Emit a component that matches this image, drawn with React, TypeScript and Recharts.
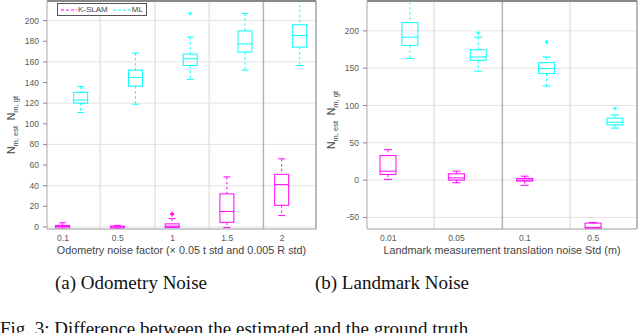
import React from 'react';
import { ComposedChart, Bar, XAxis, YAxis, CartesianGrid, ReferenceLine } from 'recharts';

// ---------- data ----------
// each stats row: [whiskerMin, q1, median, q3, whiskerMax]
const odoCategories = ['0.1', '0.5', '1', '1.5', '2'];
const odoKslamStats = [
  [-2.5, -1, 0.5, 1.5, 4],
  [-2, -1, 0, 0.8, 1.5],
  [-0.5, -0.5, 0.8, 3, 8],
  [-0.6, 4.5, 15, 32, 48.5],
  [11, 21, 41, 51, 66],
];
const odoKslamOutliers = [[], [], [12, 13], [], []];
const odoMlStats = [
  [111, 120, 123, 130.5, 136],
  [119, 136.5, 145, 152, 168.5],
  [143, 156.5, 163, 167.5, 184],
  [152, 169.5, 177.5, 190, 207],
  [156.5, 174.3, 185.5, 196, 225],
];
const odoMlOutliers = [[], [], [207], [], []];
const odoYTicks = [0, 20, 40, 60, 80, 100, 120, 140, 160, 180, 200];
const odoGridX = [1.68, 2.68, 3.67];
const odoSplitX = 4.66;

const lmCategories = ['0.01', '0.05', '0.1', '0.5'];
const lmKslamStats = [
  [1, 7.6, 12, 32.8, 40.8],
  [-3.5, 0, 3, 8.5, 12],
  [-7, -1.3, 0, 2.3, 5.3],
  [-70, -64.6, -63.3, -57.6, -56.7],
];
const lmKslamOutliers = [[], [], [], []];
const lmMlStats = [
  [163, 180.5, 191.5, 211, 245],
  [146, 160.5, 165, 174.7, 191.5],
  [126, 142.8, 149.4, 157.4, 165],
  [69.7, 74, 77.7, 83, 87.4],
];
const lmMlOutliers = [[], [197], [185], [96]];
const lmYTicks = [-50, 0, 50, 100, 150, 200];
const lmGridX = [1.67, 3.66];
const lmSplitX = 2.67;

const seriesNames = ['K-SLAM', 'ML'];

// ---------- styles ----------
const KSLAM_COLOR = '#FF00FF';
const ML_COLOR = '#00FFFF';
const TICK_FONT = 'Liberation Sans, Arial, sans-serif';
const TICK_COLOR = '#5a5a5a';

type Stats = { min: number; q1: number; med: number; q3: number; max: number; out: number[] };

const toStats = (s: number[], out: number[]): Stats => ({
  min: s[0], q1: s[1], med: s[2], q3: s[3], max: s[4], out,
});

const buildRows = (
  kStats: number[][], kOut: number[][], mStats: number[][], mOut: number[][], mlOffset: number,
) =>
  kStats.map((s, i) => ({
    xk: i + 1,
    xm: i + 1 + mlOffset,
    k: toStats(s, kOut[i]),
    m: toStats(mStats[i], mOut[i]),
  }));

const odoRows = buildRows(odoKslamStats, odoKslamOutliers, odoMlStats, odoMlOutliers, 0.33);
const lmRows = buildRows(lmKslamStats, lmKslamOutliers, lmMlStats, lmMlOutliers, 0.32);

const makeBoxShape = (key: 'k' | 'm', color: string) => (props: any) => {
  const { x, y, width, height, payload } = props;
  const b: Stats = payload[key];
  if (x == null || y == null || !b) return <g />;
  const span = b.max - b.min;
  const py = (v: number) => y + (height * (b.max - v)) / span;
  const cx = x + width / 2;
  const capW = width / 2;
  return (
    <g>
      <line x1={cx} x2={cx} y1={py(b.max)} y2={py(b.q3)} stroke={color} strokeWidth={1} strokeDasharray="2.5 2.5" />
      <line x1={cx} x2={cx} y1={py(b.q1)} y2={py(b.min)} stroke={color} strokeWidth={1} strokeDasharray="2.5 2.5" />
      <line x1={cx - capW / 2} x2={cx + capW / 2} y1={py(b.max)} y2={py(b.max)} stroke={color} strokeWidth={1} />
      <line x1={cx - capW / 2} x2={cx + capW / 2} y1={py(b.min)} y2={py(b.min)} stroke={color} strokeWidth={1} />
      <rect x={x} y={py(b.q3)} width={width} height={Math.max(py(b.q1) - py(b.q3), 1)} fill="none" stroke={color} strokeWidth={1} />
      <line x1={x} x2={x + width} y1={py(b.med)} y2={py(b.med)} stroke={color} strokeWidth={1} />
      {b.out.map((o, i) => (
        <g key={i}>
          <line x1={cx - 2} x2={cx + 2} y1={py(o)} y2={py(o)} stroke={color} strokeWidth={1} />
          <line x1={cx} x2={cx} y1={py(o) - 2} y2={py(o) + 2} stroke={color} strokeWidth={1} />
        </g>
      ))}
    </g>
  );
};

const YLabel = (props: any) => {
  const vb = props.viewBox || { x: 0, y: 0, width: 47, height: 228 };
  const cx = vb.x + 15;
  const cy = vb.y + vb.height / 2 + (props.shift || 0);
  return (
    <text
      x={cx}
      y={cy}
      transform={`rotate(-90 ${cx} ${cy})`}
      textAnchor="middle"
      fontFamily={TICK_FONT}
      fontSize={10.5}
      fill="#444"
    >
      N
      <tspan dy={3} fontSize={7.5}>m, est</tspan>
      <tspan dy={-3}>{'\u00a0\u00a0N'}</tspan>
      <tspan dy={3} fontSize={7.5}>m, gt</tspan>
    </text>
  );
};

const LegendBox = () => (
  <div
    style={{
      position: 'absolute',
      left: 57,
      top: 3,
      display: 'flex',
      alignItems: 'center',
      border: '1px solid #555',
      background: '#fff',
      height: 11,
      padding: '0 3px 0 2px',
      fontFamily: TICK_FONT,
      fontSize: 8,
      color: '#444',
      lineHeight: '11px',
    }}
  >
    <svg width={18} height={6}>
      <line x1={1} x2={17} y1={3} y2={3} stroke={KSLAM_COLOR} strokeWidth={1} strokeDasharray="3 2" />
    </svg>
    <span style={{ marginRight: 4 }}>{seriesNames[0]}</span>
    <svg width={20} height={6}>
      <line x1={1} x2={19} y1={3} y2={3} stroke={ML_COLOR} strokeWidth={1} strokeDasharray="3 2" />
    </svg>
    <span>{seriesNames[1]}</span>
  </div>
);

type PanelProps = {
  rows: any[];
  categories: string[];
  xDomain: [number, number];
  yDomain: [number, number];
  yTicks: number[];
  gridX: number[];
  splitX: number;
  xLabel: string;
  boxWidth: number;
  marginRight: number;
  labelShift: number;
};

const Panel = (p: PanelProps) => (
  <ComposedChart width={320} height={260} data={p.rows} margin={{ top: 1, right: p.marginRight, bottom: 0, left: 0 }}>
    <CartesianGrid horizontal vertical={false} stroke="#e4e4e4" strokeWidth={1} />
    <XAxis
      xAxisId="k"
      dataKey="xk"
      type="number"
      domain={p.xDomain}
      allowDataOverflow
      ticks={p.categories.map((_, i) => i + 1)}
      tickFormatter={(v: number) => p.categories[Math.round(v) - 1]}
      tick={{ fontSize: 8.5, fill: TICK_COLOR, fontFamily: TICK_FONT }}
      tickLine={false}
      tickSize={2}
      tickMargin={4}
      axisLine={{ stroke: '#aaa' }}
      height={31}
      label={{ value: p.xLabel, position: 'insideBottom', offset: 6, fontSize: 10.8, fill: '#444', fontFamily: TICK_FONT }}
    />
    <XAxis xAxisId="m" dataKey="xm" type="number" domain={p.xDomain} allowDataOverflow hide />
    <YAxis
      type="number"
      domain={p.yDomain}
      allowDataOverflow
      ticks={p.yTicks}
      width={47}
      tick={{ fontSize: 8.5, fill: TICK_COLOR, fontFamily: TICK_FONT }}
      tickLine={{ stroke: '#888' }}
      tickSize={4}
      tickMargin={4}
      axisLine={{ stroke: '#aaa' }}
      label={<YLabel shift={p.labelShift} />}
    />
    {p.gridX.map((gx) => (
      <ReferenceLine key={gx} xAxisId="k" x={gx} stroke="#e4e4e4" strokeWidth={1.5} />
    ))}
    <ReferenceLine xAxisId="k" x={p.splitX} stroke="#b4b4b4" strokeWidth={1.5} />
    <ReferenceLine xAxisId="k" x={p.xDomain[1]} stroke="#777" strokeWidth={1} ifOverflow="extendDomain" />
    <ReferenceLine xAxisId="k" y={p.yDomain[1]} stroke="#666" strokeWidth={1.5} ifOverflow="extendDomain" />
    <Bar
      xAxisId="k"
      dataKey={(d: any) => [d.k.min, d.k.max]}
      name={seriesNames[0]}
      barSize={p.boxWidth}
      isAnimationActive={false}
      shape={makeBoxShape('k', KSLAM_COLOR)}
    />
    <Bar
      xAxisId="m"
      dataKey={(d: any) => [d.m.min, d.m.max]}
      name={seriesNames[1]}
      barSize={p.boxWidth}
      isAnimationActive={false}
      shape={makeBoxShape('m', ML_COLOR)}
    />
  </ComposedChart>
);

const captionStyle: React.CSSProperties = {
  position: 'absolute',
  fontFamily: 'Liberation Serif, Times New Roman, serif',
  fontSize: 19,
  color: '#111',
  whiteSpace: 'nowrap',
  lineHeight: '22px',
};

export default function App() {
  return (
    <div style={{ position: 'absolute', left: 0, top: 0, width: 640, height: 333, overflow: 'hidden', background: '#fff' }}>
      <div style={{ position: 'absolute', left: 0, top: 0 }}>
        <Panel
          rows={odoRows}
          categories={odoCategories}
          xDomain={[0.708, 5.62]}
          yDomain={[-2, 219]}
          yTicks={odoYTicks}
          gridX={odoGridX}
          splitX={odoSplitX}
          xLabel="Odometry noise factor (× 0.05 t std and 0.005 R std)"
          boxWidth={14}
          marginRight={4}
          labelShift={10}
        />
        <LegendBox />
      </div>
      <div style={{ position: 'absolute', left: 320, top: 0 }}>
        <Panel
          rows={lmRows}
          categories={lmCategories}
          xDomain={[0.69, 4.64]}
          yDomain={[-65.5, 240]}
          yTicks={lmYTicks}
          gridX={lmGridX}
          splitX={lmSplitX}
          xLabel="Landmark measurement translation noise Std (m)"
          boxWidth={16}
          marginRight={3}
          labelShift={5}
        />
      </div>
      <div style={{ ...captionStyle, left: 0, width: 262, top: 272, textAlign: 'center' }}>(a) Odometry Noise</div>
      <div style={{ ...captionStyle, left: 312, width: 160, top: 272, textAlign: 'center' }}>(b) Landmark Noise</div>
      <div style={{ ...captionStyle, left: 0, top: 318 }}>Fig. 3: Difference between the estimated and the ground truth</div>
    </div>
  );
}
